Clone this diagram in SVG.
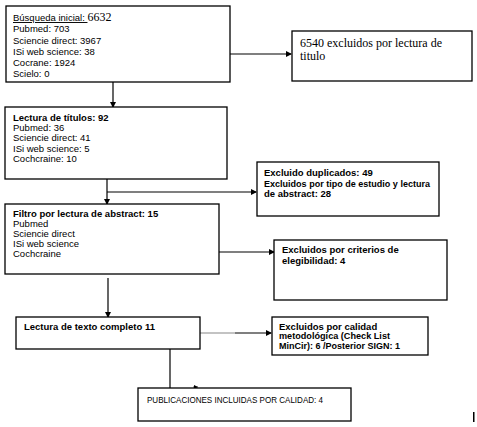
<svg xmlns="http://www.w3.org/2000/svg" width="477" height="427" viewBox="0 0 477 427">
<defs>
<style>
.box{fill:#fff;stroke:#000;stroke-width:1.3}
.t{font-family:"Liberation Sans",Arial,sans-serif;font-size:9.5px;fill:#000}
.b{font-weight:bold}
.s{font-family:"Liberation Serif","Times New Roman",serif;font-size:12px;fill:#000}
.c{stroke:#000;stroke-width:1.2;fill:none}
</style>
<marker id="ah" markerWidth="6" markerHeight="6" refX="5" refY="3" orient="auto" markerUnits="userSpaceOnUse">
<path d="M0,0 L6,3 L0,6 Z" fill="#000"/>
</marker>
<marker id="ahs" markerWidth="4" markerHeight="4" refX="4" refY="2" orient="auto" markerUnits="userSpaceOnUse">
<path d="M0,0 L4,2 L0,4 Z" fill="#000"/>
</marker>
</defs>
<rect width="477" height="427" fill="#fff"/>
<g id="connectors">
<line class="c" x1="113" y1="82" x2="113" y2="107" marker-end="url(#ah)"/>
<line class="c" x1="230" y1="54" x2="291" y2="54" marker-end="url(#ah)"/>
<line class="c" x1="107" y1="179" x2="107" y2="204" marker-end="url(#ah)"/>
<line class="c" x1="107" y1="192" x2="256" y2="192" marker-end="url(#ah)"/>
<line class="c" x1="219" y1="252" x2="274" y2="252" marker-end="url(#ah)"/>
<line class="c" x1="108" y1="278" x2="108" y2="317" marker-end="url(#ah)"/>
<line x1="200" y1="333" x2="235" y2="333" stroke="#888" stroke-width="1.2"/>
<line class="c" x1="235" y1="333" x2="271" y2="333" marker-end="url(#ah)"/>
<line class="c" x1="170" y1="349" x2="170" y2="388"/>
<line x1="193" y1="387" x2="198" y2="387" stroke="#000" stroke-width="0.6" marker-end="url(#ahs)"/>
</g>
<g id="n1">
<rect class="box" x="6" y="6" width="224" height="76"/>
<text class="t" x="13" y="21" font-size="10px"><tspan text-decoration="underline">Búsqueda inicial: </tspan><tspan class="s" font-size="12px">6632</tspan></text>
<text class="t" x="13" y="32" font-size="10px">Pubmed: 703</text>
<text class="t" x="13" y="44" font-size="10px">Sciencie direct: 3967</text>
<text class="t" x="13" y="55" font-size="10px">ISi web science: 38</text>
<text class="t" x="13" y="66" font-size="10px">Cocrane: 1924</text>
<text class="t" x="13" y="77" font-size="10px">Scielo: 0</text>
</g>
<g id="n2">
<rect class="box" x="292" y="31" width="180" height="50"/>
<text class="s" x="300" y="47">6540 excluidos por lectura de</text>
<text class="s" x="300" y="60">titulo</text>
</g>
<g id="n3">
<rect class="box" x="5" y="107" width="222" height="72"/>
<text class="t b" x="13" y="121" font-size="10px">Lectura de títulos: 92</text>
<text class="t" x="13" y="131">Pubmed: 36</text>
<text class="t" x="13" y="141">Sciencie direct: 41</text>
<text class="t" x="13" y="152">ISi web science: 5</text>
<text class="t" x="13" y="162">Cochcraine: 10</text>
</g>
<g id="n4">
<rect class="box" x="257" y="162" width="182" height="54"/>
<text class="t b" x="264" y="176">Excluido duplicados: 49</text>
<text class="t b" x="264" y="187" textLength="166" lengthAdjust="spacingAndGlyphs">Excluidos por tipo de estudio y lectura</text>
<text class="t b" x="264" y="197">de abstract: 28</text>
</g>
<g id="n5">
<rect class="box" x="5" y="204" width="214" height="70"/>
<text class="t b" x="13" y="217">Filtro por lectura de abstract: 15</text>
<text class="t" x="13" y="227">Pubmed</text>
<text class="t" x="13" y="237">Sciencie direct</text>
<text class="t" x="13" y="247">ISi web science</text>
<text class="t" x="13" y="257">Cochcraine</text>
</g>
<g id="n6">
<rect class="box" x="274" y="240" width="173" height="60"/>
<text class="t b" x="282" y="253">Excluidos por criterios de</text>
<text class="t b" x="282" y="264">elegibilidad: 4</text>
</g>
<g id="n7">
<rect class="box" x="16" y="317" width="184" height="32"/>
<text class="t b" x="24" y="330">Lectura de texto completo 11</text>
</g>
<g id="n8">
<rect class="box" x="272" y="317" width="156" height="38"/>
<text class="t b" x="279" y="329.5" font-size="9px">Excluidos por calidad</text>
<text class="t b" x="279" y="339" font-size="9px" textLength="111" lengthAdjust="spacingAndGlyphs">metodológica (Check List</text>
<text class="t b" x="279" y="349" font-size="9px" textLength="121" lengthAdjust="spacingAndGlyphs">MinCir): 6 /Posterior SIGN: 1</text>
</g>
<g id="n9">
<rect class="box" x="138" y="388" width="213" height="33"/>
<text class="t" x="147" y="403" font-size="8px" textLength="176" lengthAdjust="spacingAndGlyphs">PUBLICACIONES INCLUIDAS POR CALIDAD: 4</text>
</g>
<rect x="473" y="412" width="1.5" height="10" fill="#000"/>
</svg>
